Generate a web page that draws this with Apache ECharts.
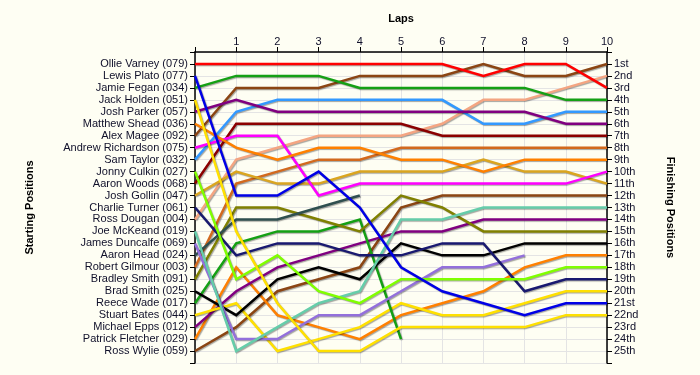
<!DOCTYPE html>
<html>
<head>
<meta charset="utf-8">
<script src="https://cdn.jsdelivr.net/npm/echarts@6/dist/echarts.min.js"></script>
<style>
html,body{margin:0;padding:0;background:#FEFEF3;}
#chart{width:700px;height:375px;}
</style>
</head>
<body>
<div id="chart"></div>
<script>
// ---- data ----
const laps = [0,1,2,3,4,5,6,7,8,9,10];
const drivers = [
  'Ollie Varney (079)','Lewis Plato (077)','Jamie Fegan (034)','Jack Holden (051)',
  'Josh Parker (057)','Matthew Shead (036)','Alex Magee (092)','Andrew Richardson (075)',
  'Sam Taylor (032)','Jonny Culkin (027)','Aaron Woods (068)','Josh Gollin (047)',
  'Charlie Turner (061)','Ross Dougan (004)','Joe McKeand (019)','James Duncalfe (069)',
  'Aaron Head (024)','Robert Gilmour (003)','Bradley Smith (091)','Brad Smith (025)',
  'Reece Wade (017)','Stuart Bates (044)','Michael Epps (012)','Patrick Fletcher (029)',
  'Ross Wylie (059)'
];
const finishLabels = ['1st','2nd','3rd','4th','5th','6th','7th','8th','9th','10th','11th','12th',
  '13th','14th','15th','16th','17th','18th','19th','20th','21st','22nd','23rd','24th','25th'];

// position at each lap (lap 0 = start); shorter arrays = retired
const varney     = [1,1,1,1,1,1,1,2,1,1,3];
const plato      = [2,12,12,10,13,18,20,21,22,21,21];
const fegan      = [3,2,2,2,3,3,3,3,3,4,4];
const holden     = [4,15,21,25,25,23,23,23,23,22,22];
const parker     = [5,4,5,5,5,5,5,5,5,6,6];
const shead      = [6,8,9,8,8,9,9,10,9,9,9];
const magee      = [7,3,3,3,2,2,2,1,2,2,1];
const richardson = [8,7,7,12,11,11,11,11,11,11,10];
const taylor     = [9,5,4,4,4,4,4,6,6,5,5];
const culkin     = [10,19,17,20,21,19,19,19,19,18,18];
const woods      = [11,6,6,6,6,6,7,7,7,7,7];
const gollin     = [12,10,11,11,10,10,10,9,10,10,11];
const turner     = [13,17,16,16,17,17,16,16,20,19,19];
const dougan     = [14,9,8,7,7,7,6,4,4,3,2];
const mckeand    = [15,25,23,21,20,14,14,13,13,13,13];
const duncalfe   = [16,24,24,22,22,20,18,18,17];
const head       = [17,14,14,13,12];
const gilmour    = [18,11,10,9,9,8,8,8,8,8,8];
const bsmith     = [19,13,13,14,15,12,13,15,15,15,15];
const bradsmith  = [20,22,19,18,19,16,17,17,16,16,16];
const wade       = [21,16,15,15,14,24];
const bates      = [22,21,25,24,23,21,22,22,21,20,20];
const epps       = [23,20,18,17,16,15,15,14,14,14,14];
const fletcher   = [24,18,22,23,24,22,21,20,18,17,17];
const wylie      = [25,23,20,19,18,13,12,12,12,12,12];

const allPositions = [varney,plato,fegan,holden,parker,shead,magee,richardson,taylor,culkin,
  woods,gollin,turner,dougan,mckeand,duncalfe,head,gilmour,bsmith,bradsmith,wade,bates,epps,
  fletcher,wylie];

// ---- styles ----
const colors = ['#FF0000','#0000E6','#14A014','#FFE000','#800080','#FF8000','#8B4513','#FF00FF',
  '#3399FF','#80FF00','#8B0000','#DAA520','#191970','#F4A582','#66CDAA','#9370DB','#2F4F4F',
  '#D2691E','#808000','#000000','#14A014','#FFE000','#800080','#FF8000','#8B4513'];

const labelFont = {fontFamily:'Liberation Sans, Arial, sans-serif', fontSize:11, color:'#10102a'};
const nameFont = {fontFamily:'Liberation Sans, Arial, sans-serif', fontSize:11, fontWeight:'bold', color:'#000'};

const series = allPositions.map((pos, i) => ({
  type:'line',
  name: drivers[i],
  data: pos.map((p, k) => [laps[k], p]),
  showSymbol:false,
  symbol:'none',
  z: 30 - i,
  lineStyle:{
    color: colors[i], width:2.5, join:'miter',
    shadowColor:'rgba(0,0,0,0.35)', shadowOffsetX:1, shadowOffsetY:1, shadowBlur:1
  },
  emphasis:{disabled:true},
  animation:false
}));

const chart = echarts.init(document.getElementById('chart'), null, {renderer:'canvas'});
chart.setOption({
  backgroundColor:'#FEFEF3',
  animation:false,
  grid:{left:195, right:93, top:52, bottom:12, containLabel:false},
  xAxis:{
    type:'value', position:'top', min:0, max:10, interval:1,
    name:'Laps', nameLocation:'middle', nameGap:28, nameTextStyle:nameFont,
    axisLine:{show:true, lineStyle:{color:'#000', width:1.5}},
    axisTick:{show:true, length:5, lineStyle:{color:'#000'}},
    axisLabel:{...labelFont, margin:5, formatter: v => v === 0 ? '' : String(v)},
    splitLine:{show:true, lineStyle:{color:'#E4E4E4', width:1}}
  },
  yAxis:[
    {
      type:'value', position:'left', inverse:true, min:0, max:26, interval:1,
      name:'Starting Positions', nameLocation:'middle', nameRotate:90, nameGap:160,
      nameTextStyle:nameFont,
      axisLine:{show:true, onZero:false, lineStyle:{color:'#000', width:1.5}},
      axisTick:{show:true, length:5, lineStyle:{color:'#000'}},
      axisLabel:{...labelFont, margin:7, formatter: v => (v>=1 && v<=drivers.length) ? drivers[v-1] : ''},
      splitLine:{show:true, lineStyle:{color:'#E4E4E4', width:1}}
    },
    {
      type:'value', position:'right', inverse:true, min:0, max:26, interval:1,
      name:'Finishing Positions', nameLocation:'middle', nameRotate:-90, nameGap:58,
      nameTextStyle:nameFont,
      axisLine:{show:true, onZero:false, lineStyle:{color:'#000', width:1.5}},
      axisTick:{show:true, length:5, lineStyle:{color:'#000'}},
      axisLabel:{...labelFont, margin:7, formatter: v => (v>=1 && v<=finishLabels.length) ? finishLabels[v-1] : ''},
      splitLine:{show:false}
    }
  ],
  series: series
});
</script>
</body>
</html>
